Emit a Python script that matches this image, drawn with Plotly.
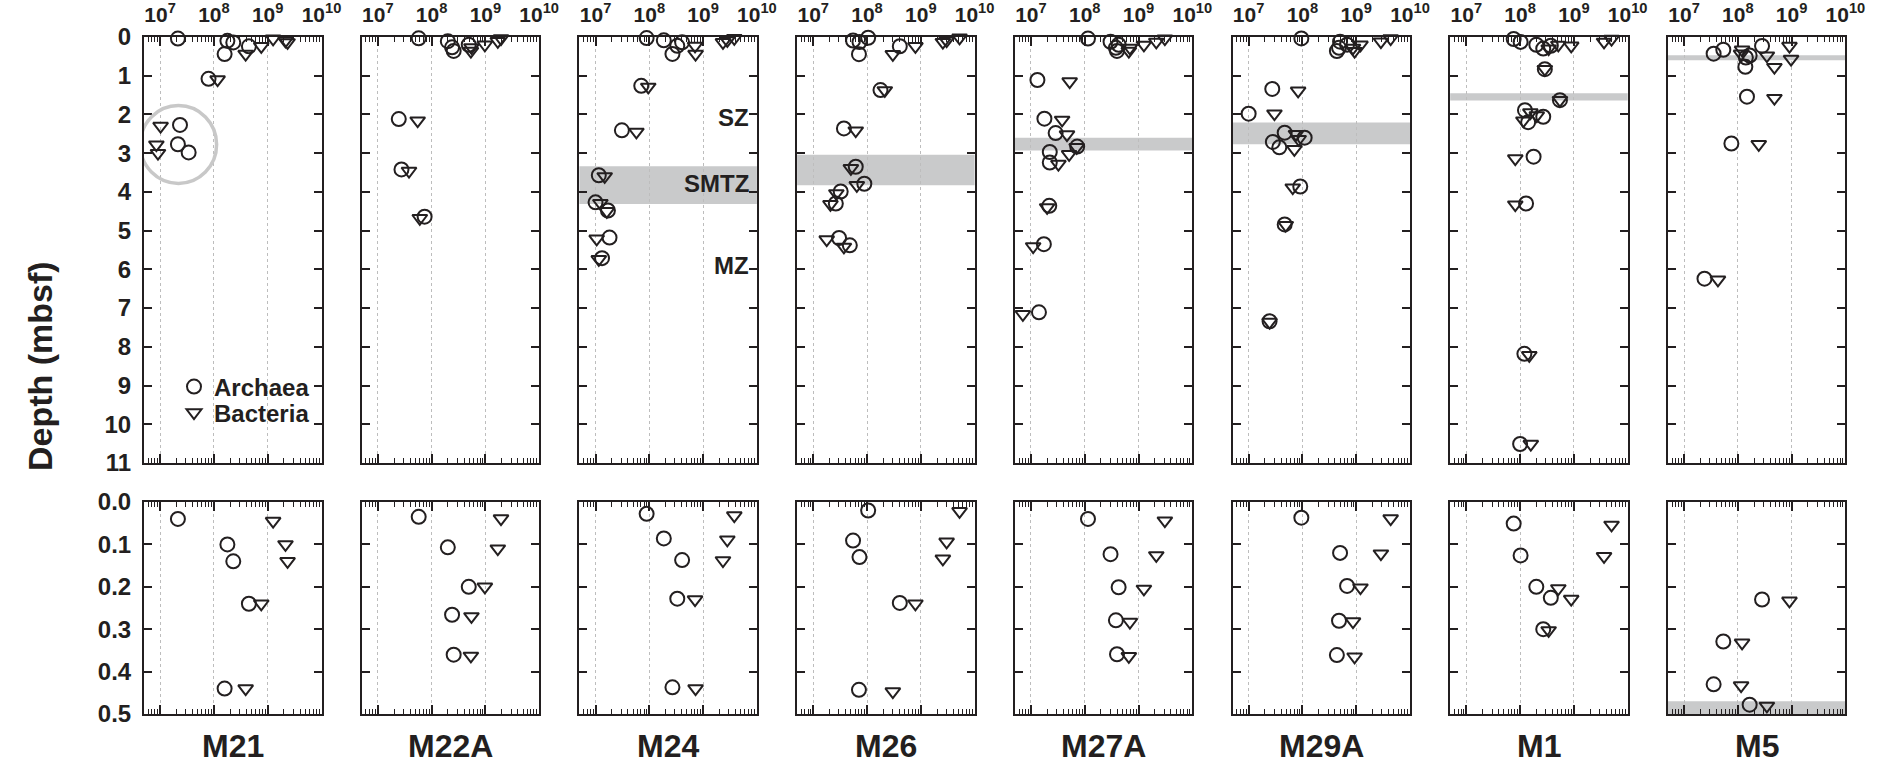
import plotly.graph_objects as go

# ---------------- data (cells per cm3, depth in mbsf) ----------------
sites = ["M21", "M22A", "M24", "M26", "M27A", "M29A", "M1", "M5"]

M21_arch_depth = [0.04, 0.10, 0.14, 0.24, 0.44, 1.08, 2.27, 2.77, 2.98]
M21_arch_cells = [2.14e7, 1.78e8, 2.29e8, 4.47e8, 1.58e8, 7.94e7, 2.34e7, 2.14e7, 3.39e7]
M21_bact_depth = [0.045, 0.10, 0.14, 0.24, 0.44, 1.10, 2.30, 2.78, 3.00]
M21_bact_cells = [1.26e9, 2.14e9, 2.34e9, 7.59e8, 3.89e8, 1.17e8, 1.02e7, 8.51e6, 9.12e6]

M22A_arch_depth = [0.035, 0.107, 0.20, 0.266, 0.36, 2.12, 3.42, 4.64]
M22A_arch_cells = [5.75e7, 2.0e8, 4.9e8, 2.4e8, 2.57e8, 2.45e7, 2.75e7, 7.41e7]
M22A_bact_depth = [0.039, 0.11, 0.20, 0.27, 0.363, 2.16, 3.46, 4.68]
M22A_bact_cells = [1.95e9, 1.7e9, 9.77e8, 5.5e8, 5.37e8, 5.5e7, 3.8e7, 6.03e7]

M24_arch_depth = [0.028, 0.086, 0.137, 0.228, 0.437, 1.26, 2.41, 3.57, 4.27, 4.48, 5.18, 5.71]
M24_arch_cells = [8.91e7, 1.86e8, 4.07e8, 3.31e8, 2.69e8, 7.08e7, 3.09e7, 1.15e7, 1.0e7, 1.7e7, 1.82e7, 1.32e7]
M24_bact_depth = [0.032, 0.089, 0.138, 0.23, 0.44, 1.29, 2.45, 3.6, 4.29, 4.5, 5.21, 5.74]
M24_bact_cells = [3.8e9, 2.82e9, 2.34e9, 7.08e8, 7.24e8, 9.55e7, 5.75e7, 1.48e7, 1.23e7, 1.62e7, 1.05e7, 1.15e7]

M26_arch_depth = [0.02, 0.091, 0.13, 0.238, 0.443, 1.37, 2.36, 3.35, 3.79, 3.99, 4.3, 5.19, 5.38]
M26_arch_cells = [1.05e8, 5.5e7, 7.24e7, 4.07e8, 7.08e7, 1.78e8, 3.72e7, 6.17e7, 8.91e7, 3.24e7, 2.63e7, 3.02e7, 4.79e7]
M26_bact_depth = [0.022, 0.094, 0.134, 0.24, 0.447, 1.38, 2.42, 3.39, 3.83, 4.04, 4.32, 5.23, 5.42]
M26_bact_cells = [5.25e9, 3.02e9, 2.57e9, 7.94e8, 3.02e8, 2.14e8, 6.17e7, 5.01e7, 6.46e7, 2.69e7, 2.09e7, 1.78e7, 3.72e7]

M27A_arch_depth = [0.04, 0.123, 0.201, 0.279, 0.359, 1.11, 2.11, 2.48, 2.83, 2.97, 3.24, 4.36, 5.35, 7.11]
M27A_arch_cells = [1.15e8, 3.02e8, 4.27e8, 3.8e8, 3.98e8, 1.32e7, 1.78e7, 2.88e7, 7.24e7, 2.24e7, 2.24e7, 2.19e7, 1.74e7, 1.41e7]
M27A_bact_depth = [0.044, 0.126, 0.205, 0.283, 0.364, 1.15, 2.14, 2.52, 2.85, 3.03, 3.28, 4.40, 5.41, 7.16]
M27A_bact_cells = [3.09e9, 2.14e9, 1.26e9, 6.92e8, 6.61e8, 5.25e7, 3.8e7, 4.68e7, 7.08e7, 5.13e7, 3.24e7, 2.0e7, 1.1e7, 7.08e6]

M29A_arch_depth = [0.037, 0.12, 0.198, 0.28, 0.361, 1.34, 1.98, 2.47, 2.6, 2.71, 2.85, 3.86, 4.84, 7.34]
M29A_arch_cells = [9.55e7, 5.01e8, 6.76e8, 4.79e8, 4.37e8, 2.75e7, 1.0e7, 4.68e7, 1.1e8, 2.82e7, 3.72e7, 9.12e7, 4.68e7, 2.45e7]
M29A_bact_depth = [0.039, 0.122, 0.202, 0.282, 0.365, 1.39, 1.98, 2.51, 2.64, 2.9, 3.89, 4.86, 7.36]
M29A_bact_cells = [4.37e9, 2.88e9, 1.2e9, 8.71e8, 9.33e8, 8.32e7, 3.02e7, 7.59e7, 8.51e7, 7.08e7, 6.61e7, 4.9e7, 2.45e7]

M1_arch_depth = [0.051, 0.126, 0.2, 0.226, 0.30, 0.83, 1.63, 1.89, 2.06, 2.2, 3.09, 4.30, 8.18, 10.51]
M1_arch_cells = [7.59e7, 1.02e8, 2.0e8, 3.72e8, 2.69e8, 2.88e8, 5.5e8, 1.23e8, 2.69e8, 1.41e8, 1.78e8, 1.29e8, 1.2e8, 1.0e8]
M1_bact_depth = [0.054, 0.128, 0.204, 0.229, 0.303, 0.83, 1.63, 1.95, 2.03, 2.16, 3.14, 4.33, 8.22, 10.51]
M1_bact_cells = [5.01e9, 3.63e9, 5.13e8, 8.91e8, 3.39e8, 2.88e8, 5.5e8, 1.55e8, 2.04e8, 1.15e8, 8.13e7, 8.13e7, 1.48e8, 1.58e8]

M5_arch_depth = [0.23, 0.329, 0.43, 0.478, 0.53, 0.77, 1.54, 2.75, 6.24]
M5_arch_cells = [2.82e8, 5.37e7, 3.55e7, 1.66e8, 1.41e8, 1.38e8, 1.48e8, 7.59e7, 2.4e7]
M5_bact_depth = [0.233, 0.332, 0.433, 0.481, 0.57, 0.78, 1.58, 2.77, 6.27]
M5_bact_cells = [9.12e8, 1.2e8, 1.15e8, 3.47e8, 9.77e8, 4.79e8, 4.79e8, 2.45e8, 4.27e7]

# SMTZ (grey band) top / bottom depth per site (None = no band)
smtz_top = [None, None, 3.34, 3.04, 2.60, 2.21, 1.45, 0.47]
smtz_bottom = [None, None, 4.31, 3.83, 2.93, 2.77, 1.64, 0.60]

# zone labels in M24 panel
zone_labels = ["SZ", "SMTZ", "MZ"]
zone_depths = [2.08, 3.79, 5.91]

x_tick_values = [1e7, 1e8, 1e9, 1e10]
x_tick_labels = ["10<sup>7</sup>", "10<sup>8</sup>", "10<sup>9</sup>", "10<sup>10</sup>"]
top_depth_ticks = list(range(0, 12))
bottom_depth_ticks = [0.0, 0.1, 0.2, 0.3, 0.4, 0.5]
bottom_depth_labels = ["0.0", "0.1", "0.2", "0.3", "0.4", "0.5"]

site_data = [
    (M21_arch_depth, M21_arch_cells, M21_bact_depth, M21_bact_cells),
    (M22A_arch_depth, M22A_arch_cells, M22A_bact_depth, M22A_bact_cells),
    (M24_arch_depth, M24_arch_cells, M24_bact_depth, M24_bact_cells),
    (M26_arch_depth, M26_arch_cells, M26_bact_depth, M26_bact_cells),
    (M27A_arch_depth, M27A_arch_cells, M27A_bact_depth, M27A_bact_cells),
    (M29A_arch_depth, M29A_arch_cells, M29A_bact_depth, M29A_bact_cells),
    (M1_arch_depth, M1_arch_cells, M1_bact_depth, M1_bact_cells),
    (M5_arch_depth, M5_arch_cells, M5_bact_depth, M5_bact_cells),
]

# ---------------- styling / geometry ----------------
W, H = 1883, 767
FONT = "Liberation Sans, Arial, Helvetica, sans-serif"
INK = "#231f20"
BAND = "#c9cacb"
PANEL_LEFT0, PANEL_STEP, PANEL_W = 144.0, 217.7, 177.5
TOP_ROW = (37.0, 463.0)      # pixel top/bottom of upper row
BOT_ROW = (502.0, 714.0)     # pixel top/bottom of lower row
minor_vals = [m * 10 ** e for e in range(6, 10) for m in range(2, 10) if m * 10 ** e > 5.1e6]

fig = go.Figure()
layout_axes = {}
shapes = []
annotations = []

for i, (site, (ad, ac, bd, bc)) in enumerate(zip(sites, site_data)):
    left = PANEL_LEFT0 + PANEL_STEP * i
    xdom = [left / W, (left + PANEL_W) / W]
    for row in (0, 1):
        k = i + 1 + 8 * row
        xs = "" if k == 1 else str(k)
        if row == 0:
            ydom = [1 - TOP_ROW[1] / H, 1 - TOP_ROW[0] / H]
            yrange = [11, 0]
            yvals, ytext = top_depth_ticks, [str(v) for v in top_depth_ticks]
            a_d, a_c, b_d, b_c = ad, ac, bd, bc
        else:
            ydom = [1 - BOT_ROW[1] / H, 1 - BOT_ROW[0] / H]
            yrange = [0.5, 0]
            yvals, ytext = bottom_depth_ticks, bottom_depth_labels
            a_d = [d for d in ad if d <= 0.5]
            a_c = [c for d, c in zip(ad, ac) if d <= 0.5]
            b_d = [d for d in bd if d <= 0.5]
            b_c = [c for d, c in zip(bd, bc) if d <= 0.5]

        layout_axes["xaxis" + xs] = dict(
            type="log", range=[6.7, 10], domain=xdom, anchor="y" + xs,
            tickmode="array", tickvals=x_tick_values, ticktext=x_tick_labels,
            ticks="inside", ticklen=9, tickwidth=1.5, tickcolor=INK,
            showline=True, linecolor=INK, linewidth=2, mirror="ticks",
            showgrid=True, gridcolor="#bdbdbd", griddash="dot", gridwidth=1,
            zeroline=False, side="top" if row == 0 else "bottom",
            showticklabels=(row == 0), ticklabelstandoff=5,
            tickfont=dict(family=FONT, size=21, color=INK, weight="bold"),
            minor=dict(tickmode="array", tickvals=minor_vals, ticks="inside",
                       ticklen=5, tickwidth=1.2, tickcolor=INK, showgrid=False),
            automargin=False,
        )
        layout_axes["yaxis" + xs] = dict(
            range=yrange, domain=ydom, anchor="x" + xs,
            tickmode="array", tickvals=yvals, ticktext=ytext,
            ticks="inside", ticklen=8, tickwidth=2, tickcolor=INK,
            showline=True, linecolor=INK, linewidth=2, mirror="ticks",
            showgrid=False, zeroline=False, showticklabels=(i == 0),
            ticklabelstandoff=6,
            tickfont=dict(family=FONT, size=24, color=INK, weight="bold"),
            automargin=False,
        )

        fig.add_trace(go.Scatter(
            x=a_c, y=a_d, mode="markers", name="Archaea",
            legend="legend", showlegend=(k == 1),
            xaxis="x" + xs, yaxis="y" + xs, cliponaxis=False,
            marker=dict(symbol="circle-open", size=14, color=INK, line=dict(width=2, color=INK)),
        ))
        fig.add_trace(go.Scatter(
            x=b_c, y=b_d, mode="markers", name="Bacteria",
            legend="legend2", showlegend=(k == 1),
            xaxis="x" + xs, yaxis="y" + xs, cliponaxis=False,
            marker=dict(symbol="triangle-down-open", size=13, color=INK, line=dict(width=2, color=INK)),
        ))

        # SMTZ band
        if smtz_top[i] is not None:
            lo, hi = (0, 11) if row == 0 else (0, 0.5)
            y0, y1 = max(smtz_top[i], lo), min(smtz_bottom[i], hi)
            if y1 > y0:
                shapes.append(dict(type="rect", xref="x" + xs + " domain", yref="y" + xs,
                                   x0=0, x1=1, y0=y0, y1=y1, fillcolor=BAND,
                                   line=dict(width=0), layer="below"))

    # station label under the column
    annotations.append(dict(
        text=site, xref="paper", yref="paper",
        x=(left + PANEL_W / 2) / W, y=1 - 746 / H, xanchor="center", yanchor="middle",
        showarrow=False, font=dict(family=FONT, size=32, color=INK, weight="bold"),
    ))

# zone labels in M24
for lab, d in zip(zone_labels, zone_depths):
    annotations.append(dict(
        text=lab, xref="x3 domain", yref="y3", x=1, y=d, xanchor="right", yanchor="middle",
        xshift=-6, showarrow=False, font=dict(family=FONT, size=24, color=INK, weight="bold"),
    ))

# highlight circle in M21 panel
shapes.append(dict(type="circle", xref="x", yref="y",
                   x0=10 ** 6.63, x1=10 ** 8.05, y0=1.77, y1=3.78,
                   line=dict(color="#c8c8c8", width=3.5), layer="above"))

# y title
annotations.append(dict(
    text="Depth (mbsf)", xref="paper", yref="paper", x=40 / W, y=1 - 366 / H,
    xanchor="center", yanchor="middle", textangle=-90, showarrow=False,
    font=dict(family=FONT, size=34, color=INK, weight="bold"),
))

legend_style = dict(xanchor="left", yanchor="middle", bgcolor="rgba(0,0,0,0)", borderwidth=0,
                    font=dict(family=FONT, size=24, color=INK, weight="bold"), itemwidth=30)

fig.update_layout(
    width=W, height=H,
    margin=dict(l=0, r=0, t=0, b=0, pad=0),
    paper_bgcolor="white", plot_bgcolor="white",
    font=dict(family=FONT, color=INK),
    shapes=shapes, annotations=annotations,
    legend=dict(x=174 / W, y=1 - 387 / H, **legend_style),
    legend2=dict(x=174 / W, y=1 - 413 / H, **legend_style),
    showlegend=True,
    **layout_axes,
)

fig.write_html("out.html", config={"displayModeBar": False},
               post_script="document.body.style.margin='0px';document.body.style.overflow='hidden';")
